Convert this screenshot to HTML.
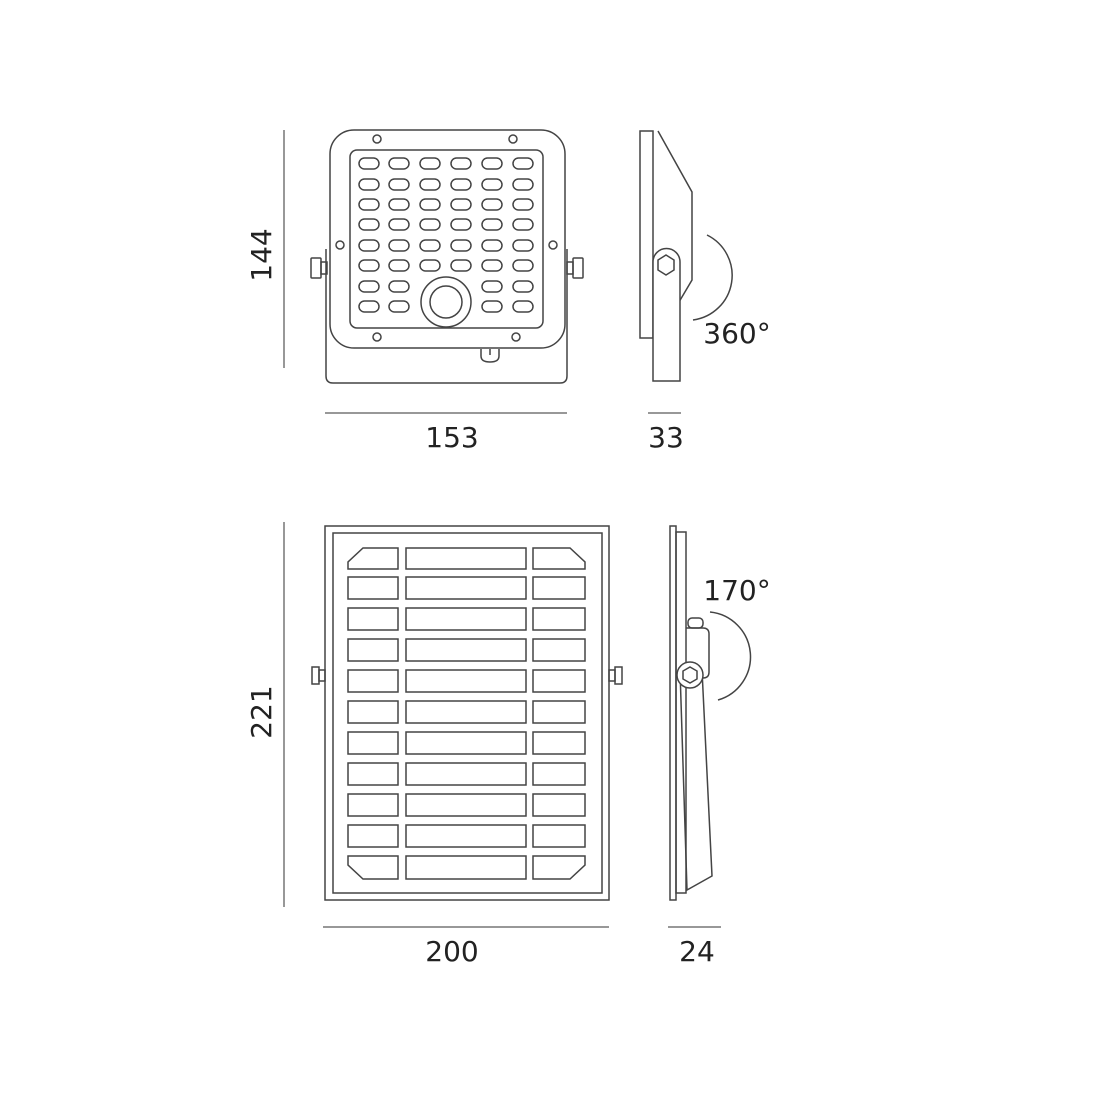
<!DOCTYPE html>
<html><head><meta charset="utf-8"><style>
html,body{margin:0;padding:0;background:#fff;}
svg{display:block}
text{font-family:"DejaVu Sans","Liberation Sans",sans-serif;fill:#222;font-size:28px}
</style></head><body>
<svg width="1100" height="1100" viewBox="0 0 1100 1100" xmlns="http://www.w3.org/2000/svg">
<g fill="none" stroke="#444" stroke-width="1.5">
<path d="M326,249 V376 Q326,383 333,383 H560 Q567,383 567,376 V249"/>
<rect x="311" y="258" width="10" height="20" rx="1"/><rect x="321" y="262" width="6" height="12"/>
<rect x="573" y="258" width="10" height="20" rx="1"/><rect x="567" y="262" width="6" height="12"/>
<path d="M481,349 V356 Q481,362 490,362 Q499,362 499,356 V349"/><line x1="490" y1="349" x2="490" y2="355"/>
<rect x="330" y="130" width="235" height="218" rx="24" fill="#fff"/>
<rect x="350" y="150" width="193" height="178" rx="7"/>
<circle cx="377" cy="139" r="4"/><circle cx="513" cy="139" r="4"/>
<circle cx="340" cy="245" r="4"/><circle cx="553" cy="245" r="4"/>
<circle cx="377" cy="337" r="4"/><circle cx="516" cy="337" r="4"/>
<circle cx="446" cy="302" r="25"/><circle cx="446" cy="302" r="16"/>
</g>
<g fill="none" stroke="#444" stroke-width="1.5">
<rect x="359" y="158" width="20" height="11" rx="5.5"/><rect x="389" y="158" width="20" height="11" rx="5.5"/><rect x="420" y="158" width="20" height="11" rx="5.5"/><rect x="451" y="158" width="20" height="11" rx="5.5"/><rect x="482" y="158" width="20" height="11" rx="5.5"/><rect x="513" y="158" width="20" height="11" rx="5.5"/>
<rect x="359" y="179" width="20" height="11" rx="5.5"/><rect x="389" y="179" width="20" height="11" rx="5.5"/><rect x="420" y="179" width="20" height="11" rx="5.5"/><rect x="451" y="179" width="20" height="11" rx="5.5"/><rect x="482" y="179" width="20" height="11" rx="5.5"/><rect x="513" y="179" width="20" height="11" rx="5.5"/>
<rect x="359" y="199" width="20" height="11" rx="5.5"/><rect x="389" y="199" width="20" height="11" rx="5.5"/><rect x="420" y="199" width="20" height="11" rx="5.5"/><rect x="451" y="199" width="20" height="11" rx="5.5"/><rect x="482" y="199" width="20" height="11" rx="5.5"/><rect x="513" y="199" width="20" height="11" rx="5.5"/>
<rect x="359" y="219" width="20" height="11" rx="5.5"/><rect x="389" y="219" width="20" height="11" rx="5.5"/><rect x="420" y="219" width="20" height="11" rx="5.5"/><rect x="451" y="219" width="20" height="11" rx="5.5"/><rect x="482" y="219" width="20" height="11" rx="5.5"/><rect x="513" y="219" width="20" height="11" rx="5.5"/>
<rect x="359" y="240" width="20" height="11" rx="5.5"/><rect x="389" y="240" width="20" height="11" rx="5.5"/><rect x="420" y="240" width="20" height="11" rx="5.5"/><rect x="451" y="240" width="20" height="11" rx="5.5"/><rect x="482" y="240" width="20" height="11" rx="5.5"/><rect x="513" y="240" width="20" height="11" rx="5.5"/>
<rect x="359" y="260" width="20" height="11" rx="5.5"/><rect x="389" y="260" width="20" height="11" rx="5.5"/><rect x="420" y="260" width="20" height="11" rx="5.5"/><rect x="451" y="260" width="20" height="11" rx="5.5"/><rect x="482" y="260" width="20" height="11" rx="5.5"/><rect x="513" y="260" width="20" height="11" rx="5.5"/>
<rect x="359" y="281" width="20" height="11" rx="5.5"/><rect x="389" y="281" width="20" height="11" rx="5.5"/><rect x="482" y="281" width="20" height="11" rx="5.5"/><rect x="513" y="281" width="20" height="11" rx="5.5"/>
<rect x="359" y="301" width="20" height="11" rx="5.5"/><rect x="389" y="301" width="20" height="11" rx="5.5"/><rect x="482" y="301" width="20" height="11" rx="5.5"/><rect x="513" y="301" width="20" height="11" rx="5.5"/>

<rect x="640" y="131" width="13" height="207"/>
<path d="M658,131 L692,192 V280 L679,302"/>
<path d="M653,381 V262 A13.5,13.5 0 0 1 680,262 V381 Z" fill="#fff"/>
<polygon points="666,255 674,260 674,270 666,275 658,270 658,260"/>
<path d="M707,235 A45,45 0 0 1 693,320"/>

<rect x="325" y="526" width="284" height="374"/>
<rect x="333" y="533" width="269" height="360"/>
<rect x="312" y="667" width="7" height="17"/><rect x="319" y="670" width="6" height="11"/>
<rect x="615" y="667" width="7" height="17"/><rect x="609" y="670" width="6" height="11"/>
<path d="M363,548 H398 V569 H348 V562 Z"/><rect x="406" y="548" width="120" height="21"/><path d="M533,548 H570 L585,562 V569 H533 Z"/>
<rect x="348" y="577" width="50" height="22"/><rect x="406" y="577" width="120" height="22"/><rect x="533" y="577" width="52" height="22"/>
<rect x="348" y="608" width="50" height="22"/><rect x="406" y="608" width="120" height="22"/><rect x="533" y="608" width="52" height="22"/>
<rect x="348" y="639" width="50" height="22"/><rect x="406" y="639" width="120" height="22"/><rect x="533" y="639" width="52" height="22"/>
<rect x="348" y="670" width="50" height="22"/><rect x="406" y="670" width="120" height="22"/><rect x="533" y="670" width="52" height="22"/>
<rect x="348" y="701" width="50" height="22"/><rect x="406" y="701" width="120" height="22"/><rect x="533" y="701" width="52" height="22"/>
<rect x="348" y="732" width="50" height="22"/><rect x="406" y="732" width="120" height="22"/><rect x="533" y="732" width="52" height="22"/>
<rect x="348" y="763" width="50" height="22"/><rect x="406" y="763" width="120" height="22"/><rect x="533" y="763" width="52" height="22"/>
<rect x="348" y="794" width="50" height="22"/><rect x="406" y="794" width="120" height="22"/><rect x="533" y="794" width="52" height="22"/>
<rect x="348" y="825" width="50" height="22"/><rect x="406" y="825" width="120" height="22"/><rect x="533" y="825" width="52" height="22"/>
<path d="M348,856 H398 V879 H363 L348,865 Z"/><rect x="406" y="856" width="120" height="23"/><path d="M533,856 H585 V865 L570,879 H533 Z"/>

<rect x="670" y="526" width="6" height="374"/>
<rect x="676" y="532" width="10" height="361"/>
<rect x="688" y="618" width="15" height="10" rx="4"/>
<path d="M686,628 H703 Q709,628 709,634 V672 Q709,678 703,678 H686"/>
<path d="M680,670 L687,890 L712,876 L702,670"/>
<circle cx="690" cy="675" r="13" fill="#fff"/>
<polygon points="690,667 697,671 697,679 690,683 683,679 683,671"/>
<path d="M710,612 A45,45 0 0 1 718,700"/>
</g>
<g stroke="#777" stroke-width="1.5">
<line x1="284" y1="130" x2="284" y2="368"/>
<line x1="325" y1="413" x2="567" y2="413"/>
<line x1="648" y1="413" x2="681" y2="413"/>
<line x1="284" y1="522" x2="284" y2="907"/>
<line x1="323" y1="927" x2="609" y2="927"/>
<line x1="668" y1="927" x2="721" y2="927"/>
</g>
<text x="452" y="447" text-anchor="middle">153</text>
<text x="666" y="447" text-anchor="middle">33</text>
<text x="452" y="961" text-anchor="middle">200</text>
<text x="697" y="961" text-anchor="middle">24</text>
<text x="737" y="343" text-anchor="middle">360°</text>
<text x="737" y="600" text-anchor="middle">170°</text>
<text transform="translate(271,255) rotate(-90)" text-anchor="middle">144</text>
<text transform="translate(271,712) rotate(-90)" text-anchor="middle">221</text>
</svg>
</body></html>
